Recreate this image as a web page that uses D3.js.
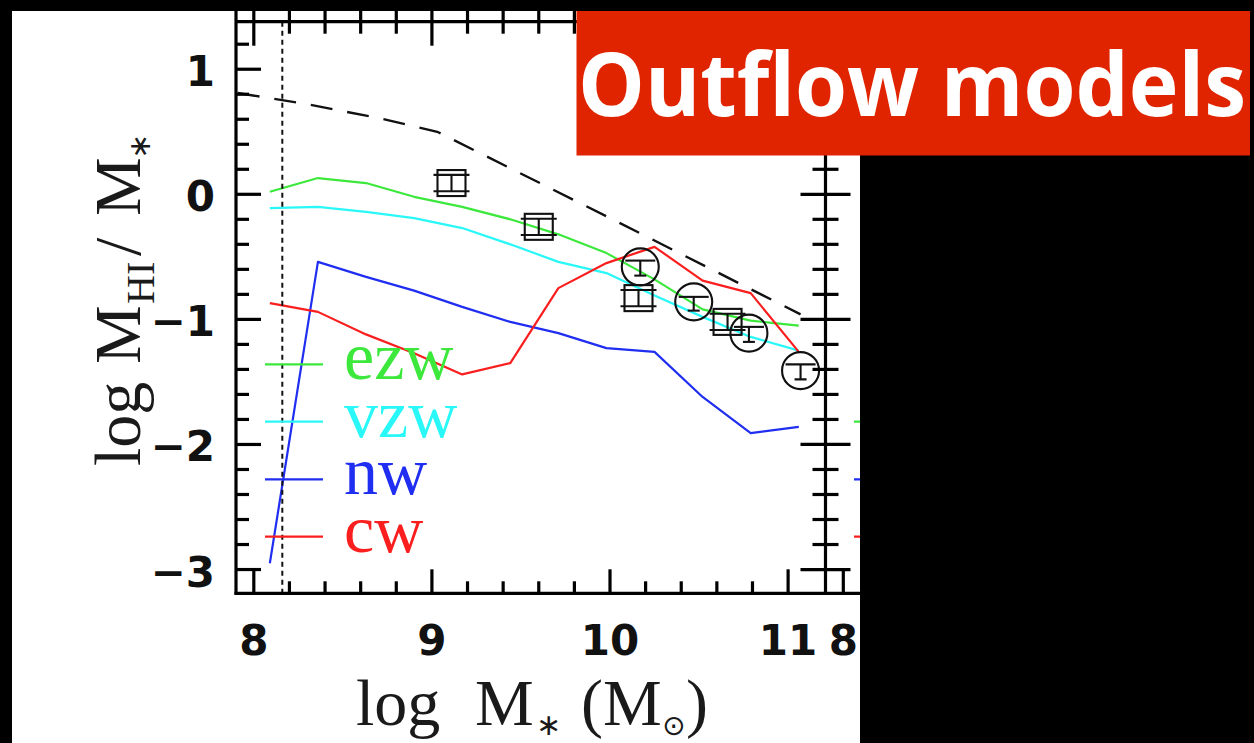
<!DOCTYPE html>
<html>
<head>
<meta charset="utf-8">
<script src="https://cdn.jsdelivr.net/npm/d3@7"></script>
<style>
  html, body { margin: 0; padding: 0; background: #000; }
  svg { display: block; }
</style>
</head>
<body>
<svg id="chart" width="1254" height="743"></svg>
<script>
// ---- data -------------------------------------------------------------
// model stellar-mass grid (log M*) shared by the four outflow runs
const massGrid = [8.09, 8.36, 8.63, 8.90, 9.17, 9.44, 9.71, 9.98, 10.25, 10.52, 10.79, 11.06];
const ezw = [0.02, 0.13, 0.09, -0.02, -0.10, -0.20, -0.32, -0.47, -0.68, -0.92, -1.01, -1.05];
const vzw = [-0.11, -0.10, -0.14, -0.19, -0.27, -0.40, -0.54, -0.63, -0.81, -0.98, -1.14, -1.25];
const nw  = [-2.95, -0.54, -0.66, -0.77, -0.90, -1.02, -1.11, -1.23, -1.26, -1.62, -1.91, -1.86];
const cw  = [-0.87, -0.94, -1.12, -1.27, -1.44, -1.35, -0.75, -0.55, -0.42, -0.69, -0.79, -1.26];

// dashed reference relation
const refMass  = [7.91, 8.30, 8.70, 9.03, 10.00, 11.07];
const refRatio = [0.81, 0.72, 0.61, 0.50, -0.19, -0.96];

// observed samples: squares and circles, with vertical errors
const sqMass  = [9.11, 9.60, 10.16, 10.66];
const sqRatio = [0.09, -0.26, -0.83, -1.02];
const sqErr   = [0.065, 0.065, 0.065, 0.065];
const ciMass  = [10.17, 10.47, 10.78, 11.07];
const ciRatio = [-0.58, -0.86, -1.11, -1.41];
const ciErrUp = [0.05, 0.04, 0.05, 0.05];
const ciErrDn = [0.07, 0.07, 0.07, 0.07];

// mass-resolution limit (dotted vertical)
const massLimit = 8.16;

const xTicks = [8, 9, 10, 11];
const nextPanelXTicks = [8];
const yTicks = [-3, -2, -1, 0, 1];
const legendNames  = ["ezw", "vzw", "nw", "cw"];
const seriesColors = ["#3ce83c", "#2af7f7", "#1f2ef0", "#fa1e1e"];
const nextLegendColors = ["#3ce83c", "#1f2ef0", "#fa1e1e"];
const badgeText = "Outflow models";

// ---- layout -----------------------------------------------------------
const W = 1254, H = 743;
const page = { x: 12, y: 11, w: 848, h: 732 };
const frame = { left: 236, right: 825.5, top: 21.7, bottom: 593.3 };

const x = d3.scaleLinear().domain([7.9, 11.21]).range([frame.left, frame.right]);
const y = d3.scaleLinear().domain([-3.19, 1.38]).range([frame.bottom, frame.top]);
// neighbouring panel to the right shares the same mass range
const xNext = d3.scaleLinear().domain([7.9, 11.21]).range([frame.right, frame.right + (frame.right - frame.left)]);

const svg = d3.select("#chart");
svg.append("rect").attr("width", W).attr("height", H).attr("fill", "#000");
svg.append("rect").attr("x", page.x).attr("y", page.y).attr("width", page.w).attr("height", page.h).attr("fill", "#fff");

const defs = svg.append("defs");
defs.append("clipPath").attr("id", "pageClip").append("rect")
  .attr("x", page.x).attr("y", page.y).attr("width", page.w).attr("height", page.h);
defs.append("clipPath").attr("id", "plotClip").append("rect")
  .attr("x", frame.left).attr("y", frame.top)
  .attr("width", frame.right - frame.left).attr("height", frame.bottom - frame.top);

const root = svg.append("g").attr("clip-path", "url(#pageClip)");
const plot = root.append("g").attr("clip-path", "url(#plotClip)");

// ---- curves -----------------------------------------------------------
const line = d3.line().x(d => x(d[0])).y(d => y(d[1]));

// dotted resolution limit
root.append("line")
  .attr("x1", x(massLimit)).attr("x2", x(massLimit))
  .attr("y1", frame.top).attr("y2", frame.bottom)
  .attr("stroke", "#111").attr("stroke-width", 2).attr("stroke-dasharray", "5,4");

// dashed reference
plot.append("path")
  .attr("d", line(d3.zip(refMass, refRatio)))
  .attr("fill", "none").attr("stroke", "#111").attr("stroke-width", 2.4)
  .attr("stroke-dasharray", "22,15");

[ezw, vzw, nw, cw].forEach((vals, i) => {
  plot.append("path")
    .attr("d", line(d3.zip(massGrid, vals)))
    .attr("fill", "none")
    .attr("stroke", seriesColors[i])
    .attr("stroke-width", 2.2)
    .attr("stroke-linejoin", "round");
});

// ---- observed points --------------------------------------------------
const mk = plot.append("g").attr("fill", "none").attr("stroke", "#111").attr("stroke-width", 2.1);
sqMass.forEach((m, i) => {
  const cx = x(m), cy = y(sqRatio[i]);
  const yt = y(sqRatio[i] + sqErr[i]), yb = y(sqRatio[i] - sqErr[i]);
  mk.append("rect").attr("x", cx - 14).attr("y", cy - 13).attr("width", 28).attr("height", 26);
  mk.append("line").attr("x1", cx).attr("x2", cx).attr("y1", yt).attr("y2", yb);
  mk.append("line").attr("x1", cx - 18).attr("x2", cx + 18).attr("y1", yt).attr("y2", yt);
  mk.append("line").attr("x1", cx - 18).attr("x2", cx + 18).attr("y1", yb).attr("y2", yb);
});
ciMass.forEach((m, i) => {
  const cx = x(m), cy = y(ciRatio[i]);
  const yt = y(ciRatio[i] + ciErrUp[i]), yb = y(ciRatio[i] - ciErrDn[i]);
  mk.append("circle").attr("cx", cx).attr("cy", cy).attr("r", 18.5);
  mk.append("line").attr("x1", cx).attr("x2", cx).attr("y1", yt).attr("y2", yb);
  mk.append("line").attr("x1", cx - 15).attr("x2", cx + 15).attr("y1", yt).attr("y2", yt);
  mk.append("line").attr("x1", cx - 6).attr("x2", cx + 6).attr("y1", yb).attr("y2", yb);
});

// ---- frame and ticks --------------------------------------------------
const ax = root.append("g").attr("stroke", "#000").attr("stroke-width", 3.2);
// frame lines (top and bottom continue into the neighbouring panel)
ax.append("line").attr("x1", frame.left).attr("x2", frame.left).attr("y1", page.y).attr("y2", frame.bottom + 1.5);
ax.append("line").attr("x1", frame.right).attr("x2", frame.right).attr("y1", page.y).attr("y2", frame.bottom + 1.5);
ax.append("line").attr("x1", frame.left).attr("x2", page.x + page.w).attr("y1", frame.top).attr("y2", frame.top);
ax.append("line").attr("x1", frame.left - 1.5).attr("x2", page.x + page.w).attr("y1", frame.bottom).attr("y2", frame.bottom);

const MAJ = 24, MIN = 12;
const minorX = d3.range(40, 56).map(i => i / 5).filter(v => !xTicks.includes(v));
const minorY = d3.range(-15, 7).map(i => i / 5).filter(v => !yTicks.includes(Math.round(v * 10) / 10));

function xTick(scale, v, len) {
  const px = scale(v);
  // bottom axis, pointing up
  ax.append("line").attr("x1", px).attr("x2", px).attr("y1", frame.bottom).attr("y2", frame.bottom - len);
  // shared top axis, ticks on both sides
  ax.append("line").attr("x1", px).attr("x2", px).attr("y1", frame.top - len).attr("y2", frame.top + len);
}
xTicks.forEach(v => xTick(x, v, MAJ));
minorX.forEach(v => xTick(x, v, MIN));
xTicks.forEach(v => xTick(xNext, v, MAJ));
minorX.forEach(v => xTick(xNext, v, MIN));

function yTick(v, len) {
  const py = y(v);
  ax.append("line").attr("x1", frame.left).attr("x2", frame.left + len).attr("y1", py).attr("y2", py);
  ax.append("line").attr("x1", frame.right - len).attr("x2", frame.right + len).attr("y1", py).attr("y2", py);
}
yTicks.forEach(v => yTick(v, MAJ + 1));
minorY.forEach(v => yTick(v, MIN + 1));

// ---- tick labels ------------------------------------------------------
const fmt = v => (v < 0 ? "\u2212" + Math.abs(v) : String(v));
const tickFont = "'DejaVu Sans', sans-serif";
root.append("g").selectAll("text").data(yTicks).join("text")
  .attr("x", 215).attr("y", d => y(d) + 17)
  .attr("text-anchor", "end")
  .attr("font-family", tickFont).attr("font-weight", "bold").attr("font-size", 42)
  .attr("fill", "#111").text(fmt);
root.append("g").selectAll("text").data(xTicks).join("text")
  .attr("x", d => x(d)).attr("y", 655)
  .attr("text-anchor", "middle")
  .attr("font-family", tickFont).attr("font-weight", "bold").attr("font-size", 42)
  .attr("fill", "#111").text(fmt);
root.append("g").selectAll("text").data(nextPanelXTicks).join("text")
  .attr("x", d => xNext(d)).attr("y", 655)
  .attr("text-anchor", "middle")
  .attr("font-family", tickFont).attr("font-weight", "bold").attr("font-size", 42)
  .attr("fill", "#111").text(fmt);

// ---- axis titles ------------------------------------------------------
const serif = "'Liberation Serif', 'Times New Roman', serif";
const xt = root.append("g").attr("font-family", serif).attr("fill", "#1a1a1a");
xt.append("text").attr("x", 356).attr("y", 725).attr("font-size", 66).text("log");
xt.append("text").attr("x", 475).attr("y", 725).attr("font-size", 66).text("M");
xt.append("text").attr("x", 536).attr("y", 735).attr("font-size", 30)
  .attr("font-family", "'DejaVu Sans', sans-serif").text("\u2217");
xt.append("text").attr("x", 581).attr("y", 725).attr("font-size", 66).text("(");
xt.append("text").attr("x", 603).attr("y", 725).attr("font-size", 66).text("M");
xt.append("text").attr("x", 662).attr("y", 735).attr("font-size", 28)
  .attr("font-family", "'DejaVu Sans', sans-serif").text("\u2299");
xt.append("text").attr("x", 686).attr("y", 725).attr("font-size", 66).text(")");

const yt = root.append("g").attr("font-family", serif).attr("fill", "#1a1a1a")
  .attr("transform", "translate(140,466) rotate(-90)");
yt.append("text").attr("x", 0).attr("y", 0).attr("font-size", 66).text("log");
yt.append("text").attr("x", 102).attr("y", 0).attr("font-size", 66).text("M");
yt.append("text").attr("x", 162).attr("y", 14).attr("font-size", 40).text("HI");
yt.append("text").attr("x", 210).attr("y", 0).attr("font-size", 66).text("/");
yt.append("text").attr("x", 250).attr("y", 0).attr("font-size", 66).text("M");
yt.append("text").attr("x", 307).attr("y", 10).attr("font-size", 30)
  .attr("font-family", "'DejaVu Sans', sans-serif").text("\u2217");

// ---- legend -----------------------------------------------------------
const legY = [364.3, 421.7, 479.3, 536.7];
const leg = root.append("g");
legendNames.forEach((name, i) => {
  leg.append("line").attr("x1", 265).attr("x2", 323).attr("y1", legY[i]).attr("y2", legY[i])
    .attr("stroke", seriesColors[i]).attr("stroke-width", 2.2);
  leg.append("text").attr("x", 344).attr("y", legY[i] + 15)
    .attr("font-family", serif).attr("font-size", 68).attr("fill", seriesColors[i]).text(name);
});
// legend keys of the neighbouring panel peeking in at the right edge
nextLegendColors.forEach((c, i) => {
  leg.append("line").attr("x1", 854).attr("x2", 900).attr("y1", legY[i + 1]).attr("y2", legY[i + 1])
    .attr("stroke", c).attr("stroke-width", 2.2);
});

// ---- badge ------------------------------------------------------------
svg.append("rect").attr("x", 576.5).attr("y", 11).attr("width", 673.5).attr("height", 144.5).attr("fill", "#e02400");
const badge = svg.append("text").attr("x", 0).attr("y", 0)
  .attr("font-family", "'Open Sans', sans-serif").attr("font-weight", 700).attr("font-size", 88)
  .attr("fill", "#fff").text(badgeText);
// squeeze the caption horizontally so it fits the banner width
const natural = badge.node().getComputedTextLength();
const squeeze = Math.min(1, 668 / natural);
badge.attr("transform", `translate(578,116) scale(${squeeze},1)`);
</script>
</body>
</html>
